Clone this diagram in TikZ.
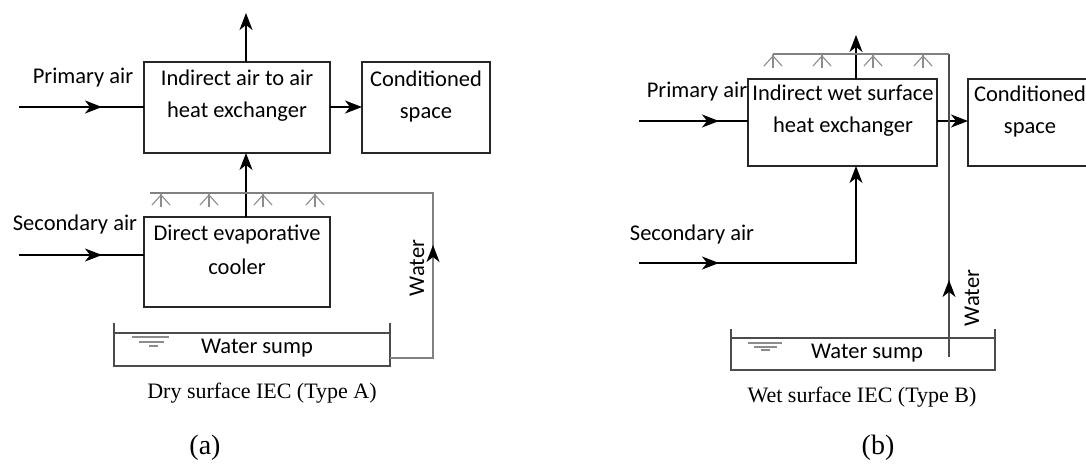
\documentclass[tikz,border=0pt]{standalone}
\usepackage{fontspec}
\setmainfont{Carlito}
\newfontfamily\capfont{Liberation Serif}
\usetikzlibrary{arrows.meta,decorations.markings,calc}
\tikzset{
  box/.style={draw=black!85,line width=1.3pt,rectangle,inner sep=0pt,outer sep=0pt},
  lbl/.style={inner sep=0pt,font=\fontsize{22.5}{32}\selectfont,align=center},
  captxt/.style={inner sep=0pt,font=\capfont\fontsize{22}{26}\selectfont},
  subtxt/.style={inner sep=0pt,font=\capfont\fontsize{28}{32}\selectfont},
  flow/.style={draw=black,line width=1.6pt},
  mytip/.tip={Stealth[length=17pt,width=13pt,inset=5pt]},
  arr/.style={flow,-mytip},
  midarr/.style={postaction={decorate,decoration={markings,mark=at position #1 with {\arrow{mytip}}}}},
  midarrblk/.style={postaction={decorate,decoration={markings,mark=at position #1 with {\arrow[black,line width=1.6pt]{mytip}}}}},
  pipe/.style={draw=black!50,line width=1.1pt},
  spray/.style={draw=black!45,line width=1.1pt},
  thinln/.style={draw=black!70,line width=1.1pt},
}
\newcommand{\sprayat}[2]{%
  \draw[spray] (#1,#2+14) -- (#1,#2);
  \draw[spray] (#1-9,#2+12) -- (#1,#2+2) -- (#1+9,#2+12);}
\begin{document}
\begin{tikzpicture}[x=1pt,y=-1pt]
\useasboundingbox (0,0) rectangle (1086,466);
% ---------------- (a) ----------------
\node[box,minimum width=186pt,minimum height=91pt] (hxA) at (237,107.5) {};
\node[box,minimum width=128pt,minimum height=91pt] (csA) at (426,107.5) {};
\node[box,minimum width=186pt,minimum height=90pt] (decA) at (237,262) {};
\node[lbl] (hxAt) at (237,96) {Indirect air to air\\heat exchanger};
\node[lbl] (csAt) at (426,96) {Conditioned\\space};
\node[lbl,font=\fontsize{22.5}{34}\selectfont] (decAt) at (237,250) {Direct evaporative\\cooler};
\node[lbl] (paAt) at (83,78) {Primary air};
\node[lbl] (saAt) at (75,224) {Secondary air};
\coordinate (exA) at (246,13);
\coordinate (paA) at (19,107);
\coordinate (saA) at (19,255);
\draw[arr] (hxA.north -| exA) -- (exA);
\draw[flow,midarr=83pt] (paA) -- (hxA.west |- paA);
\draw[flow,midarr=83pt] (saA) -- (decA.west |- saA);
\draw[arr] (hxA.east |- paA) -- (csA.west |- paA);
\draw[arr] (decA.north -| exA) -- (hxA.south -| exA);
% sump A
\node[minimum width=276pt,minimum height=43pt,inner sep=0pt,outer sep=0pt] (sumpA) at (252,344.5) {};
\draw[thinln] (sumpA.north west) -- (sumpA.south west) -- (sumpA.south east) -- (sumpA.north east);
\draw[thinln] ($(sumpA.north west)+(0,10)$) -- ($(sumpA.north east)+(0,10)$);
\draw[spray] (132,337) -- (169,337);
\draw[spray] (139,342) -- (164,342);
\draw[spray] (149,346) -- (158,346);
\node[lbl] (sumpAt) at (257,348) {Water sump};
% water loop A
\coordinate (wA1) at (433,358);
\coordinate (wA2) at (433,193);
\coordinate (sprA) at (150,193);
\draw[pipe,midarrblk=156pt] (sumpA.east |- wA1) -- (wA1) -- (wA2) -- (sprA);
\node[lbl,rotate=90] (wAt) at (417,268) {Water};
\sprayat{161}{193}
\sprayat{209}{193}
\sprayat{263}{193}
\sprayat{315}{193}
\node[captxt] (capA) at (262,393) {Dry surface IEC (Type A)};
\node[subtxt] (subA) at (205,448) {(a)};
% ---------------- (b) ----------------
\node[box,minimum width=189pt,minimum height=87pt] (hxB) at (842.5,122.5) {};
\node[box,minimum width=124pt,minimum height=87pt] (csB) at (1030,122.5) {};
\node[lbl] (hxBt) at (843,111) {Indirect wet surface\\heat exchanger};
\node[lbl] (csBt) at (1030,111) {Conditioned\\space};
\node[lbl] (paBt) at (697,92) {Primary air};
\node[lbl] (saBt) at (692,234) {Secondary air};
\coordinate (exB) at (856,35);
\coordinate (paB) at (639,121);
\coordinate (saB) at (639,263);
\draw[arr] (hxB.north -| exB) -- (exB);
\draw[flow,midarr=80pt] (paB) -- (hxB.west |- paB);
\draw[arr] (hxB.east |- paB) -- (csB.west |- paB);
\draw[flow,midarr=80pt,-mytip] (saB) -| (hxB.south -| exB);
% sump B
\node[minimum width=264pt,minimum height=41pt,inner sep=0pt,outer sep=0pt] (sumpB) at (863,349.5) {};
\draw[thinln] (sumpB.north west) -- (sumpB.south west) -- (sumpB.south east) -- (sumpB.north east);
\draw[thinln] ($(sumpB.north west)+(0,9)$) -- ($(sumpB.north east)+(0,9)$);
\draw[spray] (748,343) -- (782,343);
\draw[spray] (754,347) -- (777,347);
\draw[spray] (761,350) -- (770,350);
\node[lbl] (sumpBt) at (867,353) {Water sump};
% water B
\coordinate (wB1) at (949,357);
\coordinate (wB2) at (949,54);
\coordinate (sprB) at (773,54);
\draw[thinln,midarrblk=77pt] (wB1) -- (wB2);
\draw[pipe] (wB2) -- (sprB);
\node[lbl,rotate=90] (wBt) at (972,298) {Water};
\sprayat{773}{54}
\sprayat{822}{54}
\sprayat{873}{54}
\sprayat{923}{54}
\node[captxt] (capB) at (862,397) {Wet surface IEC (Type B)};
\node[subtxt] (subB) at (878,448) {(b)};
\end{tikzpicture}
\end{document}
